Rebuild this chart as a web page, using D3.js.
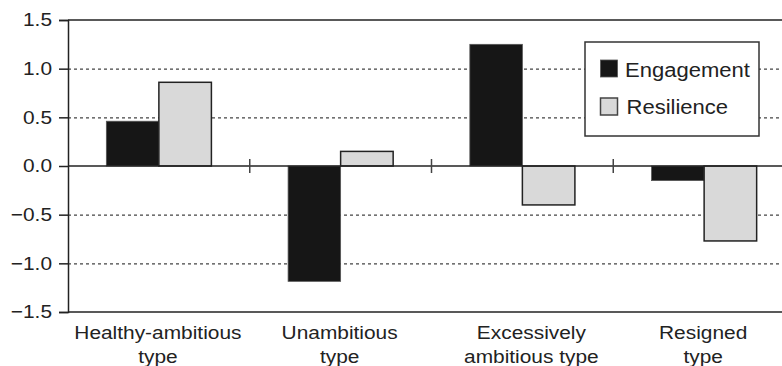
<!DOCTYPE html>
<html><head><meta charset="utf-8">
<script src="https://cdn.jsdelivr.net/npm/d3@7"></script>
<style>
html,body{margin:0;padding:0;background:#fff;}
svg{display:block;font-family:"Liberation Sans",Arial,Helvetica,sans-serif;}
</style></head>
<body><svg id="c" width="782" height="366"></svg>
<script>
const categories = [["Healthy-ambitious","type"],["Unambitious","type"],["Excessively","ambitious type"],["Resigned","type"]];
const seriesNames = ["Engagement","Resilience"];
const engagement = [0.46, -1.185, 1.25, -0.15];
const resilience = [0.86, 0.15, -0.40, -0.77];
const yTicks = [-1.5,-1.0,-0.5,0.0,0.5,1.0,1.5];
const gridValues = [-1.0,-0.5,0.5,1.0];
const colors = ["#161616","#d9d9d9"];

(function(){
const svg = d3.select("#c");
const mLeft = 68, mRight = 795, mTop = 20, mBottom = 312;
const FS = 18.5, SX = 1.13;
const y = d3.scaleLinear().domain([-1.5,1.5]).range([mBottom, mTop]);
const x = d3.scaleBand().domain(d3.range(categories.length)).range([mLeft, mRight]).paddingInner(0).paddingOuter(0);
const xs = d3.scaleBand().domain(seriesNames).range([0, x.bandwidth()]).paddingInner(0).paddingOuter(0.73);
const ink = "#222";

svg.append("g").selectAll("line").data(gridValues).join("line")
  .attr("x1", mLeft).attr("x2", mRight)
  .attr("y1", d=>y(d)+0.5).attr("y2", d=>y(d)+0.5)
  .attr("stroke","#444").attr("stroke-width",1.2).attr("stroke-dasharray","3,3");

svg.append("g").selectAll("line").data([1.5,-1.5]).join("line")
  .attr("x1", mLeft).attr("x2", mRight)
  .attr("y1", d=>y(d)).attr("y2", d=>y(d))
  .attr("stroke", ink).attr("stroke-width",1.5);

const data = [];
categories.forEach((c,i)=>{
  data.push({i, s:seriesNames[0], v:engagement[i], k:0});
  data.push({i, s:seriesNames[1], v:resilience[i], k:1});
});
svg.append("g").selectAll("rect").data(data).join("rect")
  .attr("x", d=>x(d.i)+xs(d.s))
  .attr("width", xs.bandwidth())
  .attr("y", d=>y(Math.max(0,d.v)))
  .attr("height", d=>Math.abs(y(d.v)-y(0)))
  .attr("fill", d=>colors[d.k])
  .attr("stroke", d=>d.k===0?"#555":ink)
  .attr("stroke-width", d=>d.k===0?0.8:1.5);

svg.append("line").attr("x1", mLeft).attr("x2", mRight)
  .attr("y1", y(0)).attr("y2", y(0)).attr("stroke", ink).attr("stroke-width",1.5);
svg.append("g").selectAll("line").data(d3.range(1,categories.length)).join("line")
  .attr("x1", d=>x(d)).attr("x2", d=>x(d))
  .attr("y1", y(0)-7).attr("y2", y(0)+7)
  .attr("stroke", "#444").attr("stroke-width",1.5);

const yAxis = d3.axisLeft(y).tickValues(yTicks).tickSize(9).tickPadding(7)
  .tickFormat(d=>d3.format(".1f")(d).replace("-","\u2013"));
const ga = svg.append("g").attr("transform",`translate(${mLeft},0)`).call(yAxis);
ga.select(".domain").attr("stroke", ink).attr("stroke-width",1.5);
ga.selectAll(".tick line").attr("stroke", ink).attr("stroke-width",1.5);
ga.selectAll(".tick text").attr("fill", ink).attr("font-size",FS)
  .attr("font-family","Liberation Sans, Arial, sans-serif")
  .attr("x", -16/SX).attr("transform",`scale(${SX},1)`);

const labelShift = [0,0,10,0];
const xl = svg.append("g");
categories.forEach((lines,i)=>{
  const cx = x(i) + x.bandwidth()/2 - 1 + labelShift[i];
  lines.forEach((t,j)=>{
    xl.append("text").attr("transform",`translate(${cx},${339 + j*24}) scale(${SX},1)`)
      .attr("text-anchor","middle").attr("font-size",FS).attr("fill", ink).text(t);
  });
});

const lg = svg.append("g");
lg.append("rect").attr("x",585).attr("y",42).attr("width",174).attr("height",94)
  .attr("fill","#fff").attr("stroke","#333").attr("stroke-width",1.5);
seriesNames.forEach((s,k)=>{
  lg.append("rect").attr("x",600.5).attr("y",60 + k*38).attr("width",17).attr("height",17)
    .attr("fill",colors[k]).attr("stroke", k===0?"#555":"#444").attr("stroke-width",k===0?0.8:1.5);
  lg.append("text").attr("transform",`translate(${625 + k*1.5},${76.5 + k*37.5}) scale(${SX},1)`)
    .attr("font-size",FS+1).attr("fill",ink).text(s);
});
})();
</script></body></html>
